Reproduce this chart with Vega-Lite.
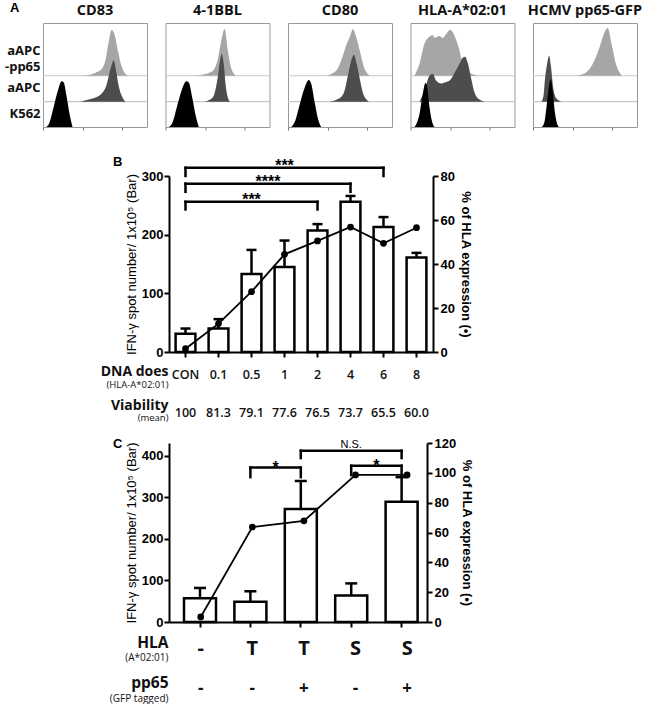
{
 "$schema": "https://vega.github.io/schema/vega-lite/v6.json",
 "padding": {"left": 3, "top": 2, "right": 0, "bottom": 0},
 "background": "white",
 "config": {
  "view": {"stroke": null},
  "font": "Liberation Sans",
  "title": {"font": "Open Sans", "fontSize": 14.5, "fontWeight": "bold", "color": "#111", "offset": 5},
  "axis": {"domainColor": "black", "domainWidth": 2, "tickColor": "black", "tickWidth": 2, "tickSize": 5, "labelFont": "Liberation Sans", "labelFontWeight": "bold", "labelFontSize": 13, "labelColor": "black", "grid": false, "titleFont": "Liberation Sans", "titleFontWeight": "normal", "titleFontSize": 13, "titleColor": "black"}
 },
 "datasets": {
  "hist": [
   {"m":"CD83","s":"P","x":1.85,"h":0},{"m":"CD83","s":"P","x":2.3,"h":0.05},{"m":"CD83","s":"P","x":2.6,"h":0.15},{"m":"CD83","s":"P","x":2.85,"h":0.3},{"m":"CD83","s":"P","x":3.0,"h":0.6},{"m":"CD83","s":"P","x":3.15,"h":1.3},{"m":"CD83","s":"P","x":3.3,"h":1.8},{"m":"CD83","s":"P","x":3.45,"h":1.6},{"m":"CD83","s":"P","x":3.6,"h":1.0},{"m":"CD83","s":"P","x":3.75,"h":0.45},{"m":"CD83","s":"P","x":3.9,"h":0.15},{"m":"CD83","s":"P","x":4.1,"h":0},
   {"m":"CD83","s":"A","x":1.8,"h":0},{"m":"CD83","s":"A","x":2.2,"h":0.08},{"m":"CD83","s":"A","x":2.55,"h":0.17},{"m":"CD83","s":"A","x":2.8,"h":0.3},{"m":"CD83","s":"A","x":3.05,"h":0.65},{"m":"CD83","s":"A","x":3.25,"h":1.3},{"m":"CD83","s":"A","x":3.4,"h":1.62},{"m":"CD83","s":"A","x":3.52,"h":1.2},{"m":"CD83","s":"A","x":3.62,"h":0.7},{"m":"CD83","s":"A","x":3.8,"h":0.2},{"m":"CD83","s":"A","x":3.97,"h":0},
   {"m":"CD83","s":"K","x":0.15,"h":0},{"m":"CD83","s":"K","x":0.3,"h":0.15},{"m":"CD83","s":"K","x":0.5,"h":0.75},{"m":"CD83","s":"K","x":0.72,"h":1.45},{"m":"CD83","s":"K","x":0.9,"h":1.8},{"m":"CD83","s":"K","x":1.0,"h":1.75},{"m":"CD83","s":"K","x":1.13,"h":1.22},{"m":"CD83","s":"K","x":1.28,"h":0.5},{"m":"CD83","s":"K","x":1.42,"h":0},
   {"m":"4-1BBL","s":"P","x":1.45,"h":0},{"m":"4-1BBL","s":"P","x":1.8,"h":0.05},{"m":"4-1BBL","s":"P","x":2.1,"h":0.12},{"m":"4-1BBL","s":"P","x":2.3,"h":0.22},{"m":"4-1BBL","s":"P","x":2.5,"h":0.6},{"m":"4-1BBL","s":"P","x":2.68,"h":1.38},{"m":"4-1BBL","s":"P","x":2.84,"h":1.84},{"m":"4-1BBL","s":"P","x":3.0,"h":0.98},{"m":"4-1BBL","s":"P","x":3.16,"h":0.3},{"m":"4-1BBL","s":"P","x":3.4,"h":0},
   {"m":"4-1BBL","s":"A","x":1.9,"h":0},{"m":"4-1BBL","s":"A","x":2.1,"h":0.06},{"m":"4-1BBL","s":"A","x":2.3,"h":0.2},{"m":"4-1BBL","s":"A","x":2.5,"h":0.9},{"m":"4-1BBL","s":"A","x":2.62,"h":1.6},{"m":"4-1BBL","s":"A","x":2.7,"h":1.88},{"m":"4-1BBL","s":"A","x":2.8,"h":1.5},{"m":"4-1BBL","s":"A","x":2.9,"h":0.6},{"m":"4-1BBL","s":"A","x":3.0,"h":0.15},{"m":"4-1BBL","s":"A","x":3.1,"h":0},
   {"m":"4-1BBL","s":"K","x":0.15,"h":0},{"m":"4-1BBL","s":"K","x":0.35,"h":0.2},{"m":"4-1BBL","s":"K","x":0.55,"h":0.8},{"m":"4-1BBL","s":"K","x":0.8,"h":1.5},{"m":"4-1BBL","s":"K","x":1.0,"h":1.8},{"m":"4-1BBL","s":"K","x":1.12,"h":1.75},{"m":"4-1BBL","s":"K","x":1.3,"h":1.1},{"m":"4-1BBL","s":"K","x":1.45,"h":0.45},{"m":"4-1BBL","s":"K","x":1.6,"h":0},
   {"m":"CD80","s":"P","x":1.8,"h":0},{"m":"CD80","s":"P","x":2.1,"h":0.08},{"m":"CD80","s":"P","x":2.4,"h":0.3},{"m":"CD80","s":"P","x":2.6,"h":0.7},{"m":"CD80","s":"P","x":2.8,"h":1.2},{"m":"CD80","s":"P","x":3.0,"h":1.6},{"m":"CD80","s":"P","x":3.12,"h":1.84},{"m":"CD80","s":"P","x":3.25,"h":1.6},{"m":"CD80","s":"P","x":3.45,"h":1.0},{"m":"CD80","s":"P","x":3.65,"h":0.35},{"m":"CD80","s":"P","x":3.95,"h":0},
   {"m":"CD80","s":"A","x":2.0,"h":0},{"m":"CD80","s":"A","x":2.4,"h":0.1},{"m":"CD80","s":"A","x":2.66,"h":0.3},{"m":"CD80","s":"A","x":2.9,"h":1.1},{"m":"CD80","s":"A","x":3.05,"h":1.65},{"m":"CD80","s":"A","x":3.17,"h":1.85},{"m":"CD80","s":"A","x":3.3,"h":1.5},{"m":"CD80","s":"A","x":3.45,"h":0.9},{"m":"CD80","s":"A","x":3.62,"h":0.3},{"m":"CD80","s":"A","x":3.9,"h":0},
   {"m":"CD80","s":"K","x":0.15,"h":0},{"m":"CD80","s":"K","x":0.35,"h":0.25},{"m":"CD80","s":"K","x":0.55,"h":0.85},{"m":"CD80","s":"K","x":0.8,"h":1.55},{"m":"CD80","s":"K","x":1.0,"h":1.85},{"m":"CD80","s":"K","x":1.12,"h":1.7},{"m":"CD80","s":"K","x":1.3,"h":0.9},{"m":"CD80","s":"K","x":1.45,"h":0.3},{"m":"CD80","s":"K","x":1.6,"h":0},
   {"m":"HLA","s":"P","x":0.19,"h":0},{"m":"HLA","s":"P","x":0.43,"h":0.47},{"m":"HLA","s":"P","x":0.67,"h":1.26},{"m":"HLA","s":"P","x":0.91,"h":1.54},{"m":"HLA","s":"P","x":1.07,"h":1.61},{"m":"HLA","s":"P","x":1.15,"h":1.5},{"m":"HLA","s":"P","x":1.39,"h":1.57},{"m":"HLA","s":"P","x":1.55,"h":1.5},{"m":"HLA","s":"P","x":1.72,"h":1.65},{"m":"HLA","s":"P","x":1.91,"h":1.81},{"m":"HLA","s":"P","x":2.12,"h":1.57},{"m":"HLA","s":"P","x":2.32,"h":1.1},{"m":"HLA","s":"P","x":2.51,"h":0.47},{"m":"HLA","s":"P","x":2.68,"h":0.2},{"m":"HLA","s":"P","x":3.0,"h":0.06},{"m":"HLA","s":"P","x":3.32,"h":0},
   {"m":"HLA","s":"A","x":0.43,"h":0},{"m":"HLA","s":"A","x":0.67,"h":0.43},{"m":"HLA","s":"A","x":0.91,"h":1.02},{"m":"HLA","s":"A","x":1.07,"h":1.1},{"m":"HLA","s":"A","x":1.23,"h":0.83},{"m":"HLA","s":"A","x":1.47,"h":0.71},{"m":"HLA","s":"A","x":1.63,"h":0.75},{"m":"HLA","s":"A","x":1.88,"h":0.83},{"m":"HLA","s":"A","x":2.12,"h":1.14},{"m":"HLA","s":"A","x":2.36,"h":1.5},{"m":"HLA","s":"A","x":2.51,"h":1.73},{"m":"HLA","s":"A","x":2.62,"h":1.77},{"m":"HLA","s":"A","x":2.76,"h":1.5},{"m":"HLA","s":"A","x":2.92,"h":0.9},{"m":"HLA","s":"A","x":3.08,"h":0.35},{"m":"HLA","s":"A","x":3.32,"h":0.08},{"m":"HLA","s":"A","x":3.56,"h":0},
   {"m":"HLA","s":"K","x":0.2,"h":0},{"m":"HLA","s":"K","x":0.43,"h":0.5},{"m":"HLA","s":"K","x":0.59,"h":1.3},{"m":"HLA","s":"K","x":0.72,"h":1.73},{"m":"HLA","s":"K","x":0.8,"h":1.6},{"m":"HLA","s":"K","x":0.88,"h":1.0},{"m":"HLA","s":"K","x":1.03,"h":0.24},{"m":"HLA","s":"K","x":1.15,"h":0},
   {"m":"GFP","s":"P","x":2.0,"h":0},{"m":"GFP","s":"P","x":2.3,"h":0.04},{"m":"GFP","s":"P","x":2.5,"h":0.1},{"m":"GFP","s":"P","x":2.87,"h":0.46},{"m":"GFP","s":"P","x":3.19,"h":1.1},{"m":"GFP","s":"P","x":3.43,"h":1.7},{"m":"GFP","s":"P","x":3.59,"h":1.88},{"m":"GFP","s":"P","x":3.78,"h":1.25},{"m":"GFP","s":"P","x":3.99,"h":0.46},{"m":"GFP","s":"P","x":4.2,"h":0.08},{"m":"GFP","s":"P","x":4.3,"h":0},
   {"m":"GFP","s":"A","x":0.4,"h":0},{"m":"GFP","s":"A","x":0.5,"h":0.2},{"m":"GFP","s":"A","x":0.57,"h":0.83},{"m":"GFP","s":"A","x":0.68,"h":1.5},{"m":"GFP","s":"A","x":0.78,"h":1.81},{"m":"GFP","s":"A","x":0.86,"h":1.4},{"m":"GFP","s":"A","x":0.97,"h":0.56},{"m":"GFP","s":"A","x":1.13,"h":0.12},{"m":"GFP","s":"A","x":1.37,"h":0},
   {"m":"GFP","s":"K","x":0.42,"h":0},{"m":"GFP","s":"K","x":0.55,"h":0.2},{"m":"GFP","s":"K","x":0.65,"h":0.8},{"m":"GFP","s":"K","x":0.75,"h":1.5},{"m":"GFP","s":"K","x":0.86,"h":1.88},{"m":"GFP","s":"K","x":0.95,"h":1.4},{"m":"GFP","s":"K","x":1.05,"h":0.6},{"m":"GFP","s":"K","x":1.15,"h":0.15},{"m":"GFP","s":"K","x":1.25,"h":0}
  ],
  "b": [
   {"d":"CON","spot":31,"hi":40,"hla":1.5},
   {"d":"0.1","spot":40,"hi":56,"hla":12.9},
   {"d":"0.5","spot":133,"hi":174,"hla":27.4},
   {"d":"1","spot":145,"hi":190,"hla":44.4},
   {"d":"2","spot":207,"hi":218,"hla":50.5},
   {"d":"4","spot":256,"hi":266,"hla":56.8},
   {"d":"6","spot":213,"hi":230,"hla":49.4},
   {"d":"8","spot":161,"hi":169,"hla":56.5}
  ],
  "bb": [
   {"i0":0,"i1":6,"im":3,"y":314,"y0":300,"t":"***"},
   {"i0":0,"i1":5,"im":2.5,"y":287,"y0":273,"t":"****"},
   {"i0":0,"i1":4,"im":2,"y":256,"y0":243,"t":"***"}
  ],
  "bt": [
   {"r":"DNA does","d":"CON","t":"CON"},{"r":"DNA does","d":"0.1","t":"0.1"},{"r":"DNA does","d":"0.5","t":"0.5"},{"r":"DNA does","d":"1","t":"1"},{"r":"DNA does","d":"2","t":"2"},{"r":"DNA does","d":"4","t":"4"},{"r":"DNA does","d":"6","t":"6"},{"r":"DNA does","d":"8","t":"8"},
   {"r":"Viability","d":"CON","t":"100"},{"r":"Viability","d":"0.1","t":"81.3"},{"r":"Viability","d":"0.5","t":"79.1"},{"r":"Viability","d":"1","t":"77.6"},{"r":"Viability","d":"2","t":"76.5"},{"r":"Viability","d":"4","t":"73.7"},{"r":"Viability","d":"6","t":"65.5"},{"r":"Viability","d":"8","t":"60.0"}
  ],
  "c": [
   {"g":"1","spot":57,"hi":82,"hla":3.4},
   {"g":"2","spot":49,"hi":74,"hla":63.7},
   {"g":"3","spot":272,"hi":340,"hla":67.8},
   {"g":"4","spot":64,"hi":93,"hla":98.6},
   {"g":"5","spot":290,"hi":349,"hla":98.6}
  ],
  "cb": [
   {"i0":1,"i1":2,"im":1.5,"y":372,"y0":349,"t":"*"},
   {"i0":2,"i1":4,"im":3,"y":412.5,"y0":395,"t":"N.S."},
   {"i0":3,"i1":4,"im":3.5,"y":376.5,"y0":354,"t":"*"}
  ],
  "ct": [
   {"r":"HLA","g":"1","t":"-"},{"r":"HLA","g":"2","t":"T"},{"r":"HLA","g":"3","t":"T"},{"r":"HLA","g":"4","t":"S"},{"r":"HLA","g":"5","t":"S"},
   {"r":"pp65","g":"1","t":"-"},{"r":"pp65","g":"2","t":"-"},{"r":"pp65","g":"3","t":"+"},{"r":"pp65","g":"4","t":"-"},{"r":"pp65","g":"5","t":"+"}
  ]
 },
 "vconcat": [
  {
   "title": {"text": "A", "anchor": "start", "frame": "bounds", "offset": 0, "dx": 6, "dy": 13, "font": "Liberation Sans", "fontSize": 13, "fontWeight": "bold", "color": "black"},
   "hconcat": [
    {"width":104,"height":104,"title":"CD83","view":{"stroke":"#999"},"data":{"name":"hist"},"transform":[{"filter":"datum.m=='CD83'"}],
     "layer":[
      {"layer":[
        {"data":{"values":[{}]},"mark":{"type":"rule","color":"#c8c8c8","strokeWidth":1.2},"encoding":{"y":{"datum":0,"type":"quantitative","scale":{"domain":[-2.02,2.08],"nice":false},"axis":null}}},
        {"transform":[{"filter":"datum.s=='P'"}],"mark":{"type":"area","color":"#a6a6a6","interpolate":"monotone"},"encoding":{"x":{"field":"x","type":"quantitative","scale":{"domain":[0,5],"nice":false,"zero":false},"axis":{"values":[0,0.301,0.477,0.602,0.699,0.778,0.845,0.903,0.954,1,1.301,1.477,1.602,1.699,1.778,1.845,1.903,1.954,2,2.301,2.477,2.602,2.699,2.778,2.845,2.903,2.954,3,3.301,3.477,3.602,3.699,3.778,3.845,3.903,3.954,4,4.301,4.477,4.602,4.699,4.778,4.845,4.903,4.954,5],"labels":false,"domain":false,"tickSize":3,"tickWidth":1,"tickColor":"#777","title":null}},"y":{"field":"h","type":"quantitative","scale":{"domain":[-2.02,2.08],"nice":false},"axis":null}}}
      ]},
      {"layer":[
        {"data":{"values":[{}]},"mark":{"type":"rule","color":"#c8c8c8","strokeWidth":1.2},"encoding":{"y":{"datum":0,"type":"quantitative","scale":{"domain":[-1.0,3.1],"nice":false},"axis":null}}},
        {"transform":[{"filter":"datum.s=='A'"}],"mark":{"type":"area","color":"#4d4d4d","interpolate":"monotone"},"encoding":{"x":{"field":"x","type":"quantitative"},"y":{"field":"h","type":"quantitative","scale":{"domain":[-1.0,3.1],"nice":false},"axis":null}}}
      ]},
      {"transform":[{"filter":"datum.s=='K'"}],"mark":{"type":"area","color":"#000","interpolate":"monotone"},"encoding":{"x":{"field":"x","type":"quantitative"},"y":{"field":"h","type":"quantitative","scale":{"domain":[0,4.1],"nice":false},"axis":{"values":[3.01,1.54,0.55],"labelExpr":"datum.value > 2 ? ['aAPC', '-pp65'] : (datum.value > 1 ? 'aAPC' : 'K562')","domain":false,"ticks":false,"labelFont":"Open Sans","labelFontSize":13,"labelFontWeight":"bold","labelColor":"#111","labelPadding":3,"labelLineHeight":16,"title":null}}}}
     ],
     "resolve":{"scale":{"y":"independent"}}},
    {"width":104,"height":104,"title":"4-1BBL","view":{"stroke":"#999"},"data":{"name":"hist"},"transform":[{"filter":"datum.m=='4-1BBL'"}],
     "layer":[
      {"layer":[
        {"data":{"values":[{}]},"mark":{"type":"rule","color":"#c8c8c8","strokeWidth":1.2},"encoding":{"y":{"datum":0,"type":"quantitative","scale":{"domain":[-2.02,2.08],"nice":false},"axis":null}}},
        {"transform":[{"filter":"datum.s=='P'"}],"mark":{"type":"area","color":"#a6a6a6","interpolate":"monotone"},"encoding":{"x":{"field":"x","type":"quantitative","scale":{"domain":[0,5],"nice":false,"zero":false},"axis":{"values":[0,0.301,0.477,0.602,0.699,0.778,0.845,0.903,0.954,1,1.301,1.477,1.602,1.699,1.778,1.845,1.903,1.954,2,2.301,2.477,2.602,2.699,2.778,2.845,2.903,2.954,3,3.301,3.477,3.602,3.699,3.778,3.845,3.903,3.954,4,4.301,4.477,4.602,4.699,4.778,4.845,4.903,4.954,5],"labels":false,"domain":false,"tickSize":3,"tickWidth":1,"tickColor":"#777","title":null}},"y":{"field":"h","type":"quantitative","scale":{"domain":[-2.02,2.08],"nice":false},"axis":null}}}
      ]},
      {"layer":[
        {"data":{"values":[{}]},"mark":{"type":"rule","color":"#c8c8c8","strokeWidth":1.2},"encoding":{"y":{"datum":0,"type":"quantitative","scale":{"domain":[-1.0,3.1],"nice":false},"axis":null}}},
        {"transform":[{"filter":"datum.s=='A'"}],"mark":{"type":"area","color":"#4d4d4d","interpolate":"monotone"},"encoding":{"x":{"field":"x","type":"quantitative"},"y":{"field":"h","type":"quantitative","scale":{"domain":[-1.0,3.1],"nice":false},"axis":null}}}
      ]},
      {"transform":[{"filter":"datum.s=='K'"}],"mark":{"type":"area","color":"#000","interpolate":"monotone"},"encoding":{"x":{"field":"x","type":"quantitative"},"y":{"field":"h","type":"quantitative","scale":{"domain":[0,4.1],"nice":false},"axis":null}}}
     ],
     "resolve":{"scale":{"y":"independent"}}},
    {"width":104,"height":104,"title":"CD80","view":{"stroke":"#999"},"data":{"name":"hist"},"transform":[{"filter":"datum.m=='CD80'"}],
     "layer":[
      {"layer":[
        {"data":{"values":[{}]},"mark":{"type":"rule","color":"#c8c8c8","strokeWidth":1.2},"encoding":{"y":{"datum":0,"type":"quantitative","scale":{"domain":[-2.02,2.08],"nice":false},"axis":null}}},
        {"transform":[{"filter":"datum.s=='P'"}],"mark":{"type":"area","color":"#a6a6a6","interpolate":"monotone"},"encoding":{"x":{"field":"x","type":"quantitative","scale":{"domain":[0,5],"nice":false,"zero":false},"axis":{"values":[0,0.301,0.477,0.602,0.699,0.778,0.845,0.903,0.954,1,1.301,1.477,1.602,1.699,1.778,1.845,1.903,1.954,2,2.301,2.477,2.602,2.699,2.778,2.845,2.903,2.954,3,3.301,3.477,3.602,3.699,3.778,3.845,3.903,3.954,4,4.301,4.477,4.602,4.699,4.778,4.845,4.903,4.954,5],"labels":false,"domain":false,"tickSize":3,"tickWidth":1,"tickColor":"#777","title":null}},"y":{"field":"h","type":"quantitative","scale":{"domain":[-2.02,2.08],"nice":false},"axis":null}}}
      ]},
      {"layer":[
        {"data":{"values":[{}]},"mark":{"type":"rule","color":"#c8c8c8","strokeWidth":1.2},"encoding":{"y":{"datum":0,"type":"quantitative","scale":{"domain":[-1.0,3.1],"nice":false},"axis":null}}},
        {"transform":[{"filter":"datum.s=='A'"}],"mark":{"type":"area","color":"#4d4d4d","interpolate":"monotone"},"encoding":{"x":{"field":"x","type":"quantitative"},"y":{"field":"h","type":"quantitative","scale":{"domain":[-1.0,3.1],"nice":false},"axis":null}}}
      ]},
      {"transform":[{"filter":"datum.s=='K'"}],"mark":{"type":"area","color":"#000","interpolate":"monotone"},"encoding":{"x":{"field":"x","type":"quantitative"},"y":{"field":"h","type":"quantitative","scale":{"domain":[0,4.1],"nice":false},"axis":null}}}
     ],
     "resolve":{"scale":{"y":"independent"}}},
    {"width":104,"height":104,"title":"HLA-A*02:01","view":{"stroke":"#999"},"data":{"name":"hist"},"transform":[{"filter":"datum.m=='HLA'"}],
     "layer":[
      {"layer":[
        {"data":{"values":[{}]},"mark":{"type":"rule","color":"#c8c8c8","strokeWidth":1.2},"encoding":{"y":{"datum":0,"type":"quantitative","scale":{"domain":[-2.02,2.08],"nice":false},"axis":null}}},
        {"transform":[{"filter":"datum.s=='P'"}],"mark":{"type":"area","color":"#a6a6a6","interpolate":"monotone"},"encoding":{"x":{"field":"x","type":"quantitative","scale":{"domain":[0,5],"nice":false,"zero":false},"axis":{"values":[0,0.301,0.477,0.602,0.699,0.778,0.845,0.903,0.954,1,1.301,1.477,1.602,1.699,1.778,1.845,1.903,1.954,2,2.301,2.477,2.602,2.699,2.778,2.845,2.903,2.954,3,3.301,3.477,3.602,3.699,3.778,3.845,3.903,3.954,4,4.301,4.477,4.602,4.699,4.778,4.845,4.903,4.954,5],"labels":false,"domain":false,"tickSize":3,"tickWidth":1,"tickColor":"#777","title":null}},"y":{"field":"h","type":"quantitative","scale":{"domain":[-2.02,2.08],"nice":false},"axis":null}}}
      ]},
      {"layer":[
        {"data":{"values":[{}]},"mark":{"type":"rule","color":"#c8c8c8","strokeWidth":1.2},"encoding":{"y":{"datum":0,"type":"quantitative","scale":{"domain":[-1.0,3.1],"nice":false},"axis":null}}},
        {"transform":[{"filter":"datum.s=='A'"}],"mark":{"type":"area","color":"#4d4d4d","interpolate":"monotone"},"encoding":{"x":{"field":"x","type":"quantitative"},"y":{"field":"h","type":"quantitative","scale":{"domain":[-1.0,3.1],"nice":false},"axis":null}}}
      ]},
      {"transform":[{"filter":"datum.s=='K'"}],"mark":{"type":"area","color":"#000","interpolate":"monotone"},"encoding":{"x":{"field":"x","type":"quantitative"},"y":{"field":"h","type":"quantitative","scale":{"domain":[0,4.1],"nice":false},"axis":null}}}
     ],
     "resolve":{"scale":{"y":"independent"}}},
    {"width":104,"height":104,"title":"HCMV pp65-GFP","view":{"stroke":"#999"},"data":{"name":"hist"},"transform":[{"filter":"datum.m=='GFP'"}],
     "layer":[
      {"layer":[
        {"data":{"values":[{}]},"mark":{"type":"rule","color":"#c8c8c8","strokeWidth":1.2},"encoding":{"y":{"datum":0,"type":"quantitative","scale":{"domain":[-2.02,2.08],"nice":false},"axis":null}}},
        {"transform":[{"filter":"datum.s=='P'"}],"mark":{"type":"area","color":"#a6a6a6","interpolate":"monotone"},"encoding":{"x":{"field":"x","type":"quantitative","scale":{"domain":[0,5],"nice":false,"zero":false},"axis":{"values":[0,0.301,0.477,0.602,0.699,0.778,0.845,0.903,0.954,1,1.301,1.477,1.602,1.699,1.778,1.845,1.903,1.954,2,2.301,2.477,2.602,2.699,2.778,2.845,2.903,2.954,3,3.301,3.477,3.602,3.699,3.778,3.845,3.903,3.954,4,4.301,4.477,4.602,4.699,4.778,4.845,4.903,4.954,5],"labels":false,"domain":false,"tickSize":3,"tickWidth":1,"tickColor":"#777","title":null}},"y":{"field":"h","type":"quantitative","scale":{"domain":[-2.02,2.08],"nice":false},"axis":null}}}
      ]},
      {"layer":[
        {"data":{"values":[{}]},"mark":{"type":"rule","color":"#c8c8c8","strokeWidth":1.2},"encoding":{"y":{"datum":0,"type":"quantitative","scale":{"domain":[-1.0,3.1],"nice":false},"axis":null}}},
        {"transform":[{"filter":"datum.s=='A'"}],"mark":{"type":"area","color":"#4d4d4d","interpolate":"monotone"},"encoding":{"x":{"field":"x","type":"quantitative"},"y":{"field":"h","type":"quantitative","scale":{"domain":[-1.0,3.1],"nice":false},"axis":null}}}
      ]},
      {"transform":[{"filter":"datum.s=='K'"}],"mark":{"type":"area","color":"#000","interpolate":"monotone"},"encoding":{"x":{"field":"x","type":"quantitative"},"y":{"field":"h","type":"quantitative","scale":{"domain":[0,4.1],"nice":false},"axis":null}}}
     ],
     "resolve":{"scale":{"y":"independent"}}}
   ],
   "spacing": 18.5,
   "bounds": "flush"
  },
  {
   "hconcat": [
    {"width": 57, "height": 20, "data": {"values": [{}]}, "mark": {"type": "rule", "opacity": 0}, "encoding": {"y": {"datum": 0, "type": "quantitative", "axis": null}}},
    {
     "vconcat": [
      {
       "width": 264, "height": 176,
       "title": {"text": "B", "anchor": "start", "frame": "group", "dx": -56, "dy": 11, "offset": 0, "font": "Liberation Sans", "fontSize": 13, "fontWeight": "bold", "color": "black"},
       "layer": [
        {"data": {"name": "b"},
         "encoding": {"x": {"field": "d", "type": "nominal", "scale": {"domain": ["CON","0.1","0.5","1","2","4","6","8"], "paddingInner": 0.4, "paddingOuter": 0.2}, "axis": {"labels": false, "title": null}}},
         "layer": [
          {"mark": {"type": "rule", "color": "black", "strokeWidth": 2.5}, "encoding": {"y": {"field": "spot", "type": "quantitative", "scale": {"domain": [0,300], "nice": false}, "axis": {"values": [0,100,200,300], "title": "IFN-γ spot number/ 1x10⁵ (Bar)", "labelPadding": 1, "titlePadding": 3}}, "y2": {"field": "hi"}}},
          {"mark": {"type": "tick", "color": "black", "thickness": 2.5, "size": 10, "opacity": 1}, "encoding": {"y": {"field": "hi", "type": "quantitative"}}},
          {"mark": {"type": "bar", "fill": "white", "stroke": "black", "strokeWidth": 2.5}, "encoding": {"y": {"field": "spot", "type": "quantitative"}}}
         ]},
        {"data": {"name": "bb"},
         "encoding": {"y": {"field": "y", "type": "quantitative", "scale": {"domain": [0,300], "nice": false}, "axis": null}},
         "layer": [
          {"mark": {"type": "rule", "color": "black", "strokeWidth": 2.5, "strokeCap": "square"}, "encoding": {"x": {"field": "i0", "type": "quantitative", "scale": {"domain": [-0.5,7.5], "nice": false, "zero": false}, "axis": null}, "x2": {"field": "i1"}}},
          {"mark": {"type": "rule", "color": "black", "strokeWidth": 2.5, "strokeCap": "square"}, "encoding": {"x": {"field": "i0", "type": "quantitative"}, "y2": {"field": "y0"}}},
          {"mark": {"type": "rule", "color": "black", "strokeWidth": 2.5, "strokeCap": "square"}, "encoding": {"x": {"field": "i1", "type": "quantitative"}, "y2": {"field": "y0"}}},
          {"mark": {"type": "text", "font": "Liberation Sans", "fontSize": 16, "fontWeight": "bold", "baseline": "alphabetic", "dy": 3, "color": "black"}, "encoding": {"x": {"field": "im", "type": "quantitative"}, "text": {"field": "t"}}}
         ]},
        {"data": {"name": "b"},
         "encoding": {"x": {"field": "d", "type": "nominal", "scale": {"domain": ["CON","0.1","0.5","1","2","4","6","8"], "paddingInner": 0.4, "paddingOuter": 0.2}, "axis": null},
                      "y": {"field": "hla", "type": "quantitative", "scale": {"domain": [0,80], "nice": false}, "axis": {"orient": "right", "values": [0,20,40,60,80], "title": "% of HLA expression (•)", "titleFontWeight": "bold", "labelPadding": 2, "titlePadding": 4}},
                      "order": {"value": null}},
         "layer": [
          {"mark": {"type": "line", "color": "black", "strokeWidth": 1.8}},
          {"mark": {"type": "point", "filled": true, "color": "black", "size": 45, "opacity": 1}}
         ]}
       ],
       "resolve": {"scale": {"y": "independent", "x": "independent"}}
      },
      {
       "width": 264, "height": 78,
       "data": {"name": "bt"},
       "encoding": {
        "x": {"field": "d", "type": "nominal", "scale": {"domain": ["CON","0.1","0.5","1","2","4","6","8"], "paddingInner": 0.4, "paddingOuter": 0.2}, "axis": null},
        "y": {"field": "r", "type": "nominal", "scale": {"type": "point", "domain": ["DNA does","(HLA-A*02:01)","Viability","(mean)"], "padding": 0.794, "align": 0.396},
              "axis": {"domain": false, "ticks": false, "title": null, "labelPadding": 1, "labelFont": "Open Sans", "labelColor": "#111",
                       "labelFontSize": {"condition": {"test": "indexof(datum.label, '(') == 0", "value": 9.5}, "value": 14},
                       "labelFontWeight": {"condition": {"test": "indexof(datum.label, '(') == 0", "value": "normal"}, "value": "bold"},
                       "labelOffset": {"condition": [{"test": "datum.label == 'DNA does'", "value": 2}, {"test": "datum.label == '(HLA-A*02:01)'", "value": -2}, {"test": "datum.label == 'Viability'", "value": 2}, {"test": "datum.label == '(mean)'", "value": -3}], "value": 0}}}
       },
       "layer": [
        {"transform": [{"filter": "datum.r == 'DNA does'"}], "mark": {"type": "text", "font": "Open Sans", "fontSize": 12.5, "fontWeight": 600, "color": "#111", "dy": 5}, "encoding": {"text": {"field": "t"}}},
        {"transform": [{"filter": "datum.r == 'Viability'"}], "mark": {"type": "text", "font": "Open Sans", "fontSize": 12.5, "fontWeight": 600, "color": "#111", "dy": 9}, "encoding": {"text": {"field": "t"}}}
       ]
      },
      {
       "width": 258, "height": 179,
       "title": {"text": "C", "anchor": "start", "frame": "group", "dx": -56, "dy": 13.5, "offset": 0, "font": "Liberation Sans", "fontSize": 13, "fontWeight": "bold", "color": "black"},
       "layer": [
        {"data": {"name": "c"},
         "encoding": {"x": {"field": "g", "type": "nominal", "scale": {"domain": ["1","2","3","4","5"], "paddingInner": 0.365, "paddingOuter": 0.242, "align": 0.615}, "axis": {"labels": false, "title": null}}},
         "layer": [
          {"mark": {"type": "rule", "color": "black", "strokeWidth": 2.5}, "encoding": {"y": {"field": "spot", "type": "quantitative", "scale": {"domain": [0,431.3], "nice": false}, "axis": {"values": [0,100,200,300,400], "title": "IFN-γ spot number/ 1x10⁵ (Bar)", "labelPadding": 1, "titlePadding": 3}}, "y2": {"field": "hi"}}},
          {"mark": {"type": "tick", "color": "black", "thickness": 2.5, "size": 12, "opacity": 1}, "encoding": {"y": {"field": "hi", "type": "quantitative"}}},
          {"mark": {"type": "bar", "fill": "white", "stroke": "black", "strokeWidth": 2.5}, "encoding": {"y": {"field": "spot", "type": "quantitative"}}}
         ]},
        {"data": {"name": "cb"},
         "encoding": {"y": {"field": "y", "type": "quantitative", "scale": {"domain": [0,431.3], "nice": false}, "axis": null}},
         "layer": [
          {"mark": {"type": "rule", "color": "black", "strokeWidth": 2.5, "strokeCap": "square"}, "encoding": {"x": {"field": "i0", "type": "quantitative", "scale": {"domain": [-0.615,4.504], "nice": false, "zero": false}, "axis": null}, "x2": {"field": "i1"}}},
          {"mark": {"type": "rule", "color": "black", "strokeWidth": 2.5, "strokeCap": "square"}, "encoding": {"x": {"field": "i0", "type": "quantitative"}, "y2": {"field": "y0"}}},
          {"mark": {"type": "rule", "color": "black", "strokeWidth": 2.5, "strokeCap": "square"}, "encoding": {"x": {"field": "i1", "type": "quantitative"}, "y2": {"field": "y0"}}},
          {"transform": [{"filter": "datum.t == '*'"}], "mark": {"type": "text", "font": "Liberation Sans", "fontSize": 16, "fontWeight": "bold", "baseline": "alphabetic", "dy": 5, "color": "black"}, "encoding": {"x": {"field": "im", "type": "quantitative"}, "text": {"field": "t"}}},
          {"transform": [{"filter": "datum.t != '*'"}], "mark": {"type": "text", "font": "Liberation Sans", "fontSize": 11, "baseline": "alphabetic", "dy": -3, "color": "black"}, "encoding": {"x": {"field": "im", "type": "quantitative"}, "text": {"field": "t"}}}
         ]},
        {"data": {"name": "c"},
         "encoding": {"x": {"field": "g", "type": "nominal", "scale": {"domain": ["1","2","3","4","5"], "paddingInner": 0.365, "paddingOuter": 0.242, "align": 0.615}, "axis": null},
                      "y": {"field": "hla", "type": "quantitative", "scale": {"domain": [0,120], "nice": false}, "axis": {"orient": "right", "values": [0,20,40,60,80,100,120], "title": "% of HLA expression (•)", "titleFontWeight": "bold", "labelPadding": 2, "titlePadding": 4}},
                      "order": {"value": null}},
         "layer": [
          {"mark": {"type": "line", "color": "black", "strokeWidth": 1.8}},
          {"mark": {"type": "point", "filled": true, "color": "black", "size": 45, "opacity": 1}}
         ]}
       ],
       "resolve": {"scale": {"y": "independent", "x": "independent"}}
      },
      {
       "width": 258, "height": 73,
       "data": {"name": "ct"},
       "encoding": {
        "x": {"field": "g", "type": "nominal", "scale": {"domain": ["1","2","3","4","5"], "paddingInner": 0.365, "paddingOuter": 0.242, "align": 0.615}, "axis": null},
        "y": {"field": "r", "type": "nominal", "scale": {"type": "point", "domain": ["HLA","(A*02:01)","pp65","(GFP tagged)"], "padding": 0.378, "align": 0.731},
              "axis": {"domain": false, "ticks": false, "title": null, "labelPadding": 1, "labelFont": "Open Sans", "labelColor": "#111",
                       "labelFontSize": {"condition": {"test": "indexof(datum.label, '(') == 0", "value": 10}, "value": 15.5},
                       "labelFontWeight": {"condition": {"test": "indexof(datum.label, '(') == 0", "value": "normal"}, "value": "bold"},
                       "labelOffset": {"condition": [{"test": "datum.label == 'HLA'", "value": 3}, {"test": "datum.label == '(A*02:01)'", "value": -1.5}, {"test": "datum.label == 'pp65'", "value": 3.7}], "value": 0}}}
       },
       "layer": [
        {"transform": [{"filter": "datum.r == 'HLA'"}], "mark": {"type": "text", "font": "Open Sans", "fontSize": 20, "fontWeight": "bold", "color": "#111", "dy": 9.5}, "encoding": {"text": {"field": "t"}}},
        {"transform": [{"filter": "datum.r == 'pp65'"}], "mark": {"type": "text", "font": "Open Sans", "fontSize": 17, "fontWeight": "bold", "color": "#111", "dy": 10.5}, "encoding": {"text": {"field": "t"}}}
       ]
      }
     ],
     "spacing": 0
    }
   ],
   "spacing": 0
  }
 ],
 "spacing": 24
}
